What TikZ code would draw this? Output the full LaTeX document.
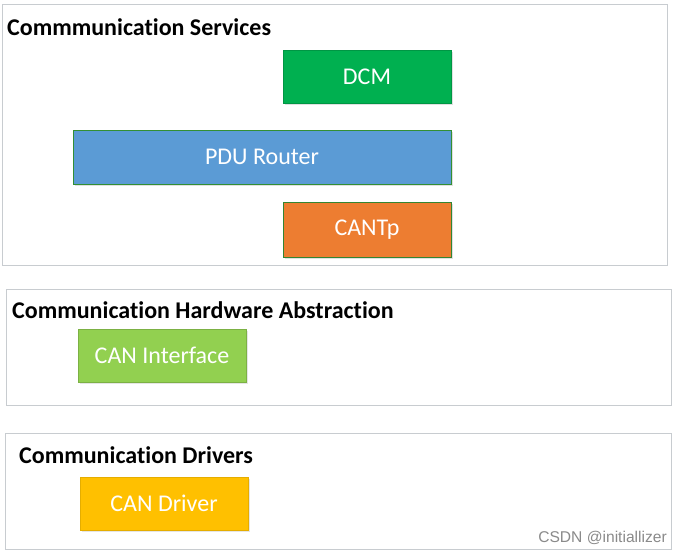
\documentclass[tikz,border=0pt]{standalone}
\usepackage{fontspec}
\setmainfont[Ligatures=NoCommon]{Carlito}
\newfontfamily\wmfont{Liberation Sans}
\definecolor{framegray}{HTML}{C8CCD0}
\definecolor{dcmgreen}{HTML}{00B050}
\definecolor{pdublue}{HTML}{5B9BD5}
\definecolor{cantporange}{HTML}{ED7D31}
\definecolor{ifgreen}{HTML}{92D050}
\definecolor{drvyellow}{HTML}{FFC000}
\definecolor{wmgray}{HTML}{8A8A8A}
\tikzset{
  layerbox/.style={draw=framegray, line width=1pt, fill=white},
  modbox/.style={line width=0.8pt, text=white, font=\fontsize{24}{26}\selectfont, inner sep=0pt},
  layertitle/.style={anchor=west, inner sep=0pt, font=\fontsize{24}{26}\selectfont\bfseries},
}
\begin{document}
\begin{tikzpicture}[x=1pt,y=-1pt]
\useasboundingbox (0,0) rectangle (676,553);
\fill[white] (0,0) rectangle (676,553);
% layers
\draw[layerbox] (2,5) rectangle (667,265);
\draw[layerbox] (6,289) rectangle (671,405);
\draw[layerbox] (5,433) rectangle (671,549);
% titles
\node[layertitle] (t1) at (7,27) {Commmunication Services};
\node[layertitle] (t2) at (12,310) {Communication Hardware Abstraction};
\node[layertitle] (t3) at (19,455) {Communication Drivers};
% modules
\fill[black!12] (285,52) rectangle (453,105);
\draw[modbox, draw=dcmgreen!85!black, fill=dcmgreen] (283,50) rectangle (451,103);
\node[modbox] (dcm) at (367,76.5) {DCM};
\fill[black!12] (75,132) rectangle (453,186);
\draw[modbox, draw=green!45!black!80, fill=pdublue] (73,130) rectangle (451,184);
\node[modbox] (pdur) at (262,157) {PDU Router};
\fill[black!12] (285,204) rectangle (453,259);
\draw[modbox, draw=green!40!black!80, fill=cantporange] (283,202) rectangle (451,257);
\node[modbox] (cantp) at (367,229.5) {CANTp};
\fill[black!10] (80,331) rectangle (248,384);
\draw[modbox, draw=ifgreen!85!black, fill=ifgreen] (78,329) rectangle (246,382);
\node[modbox] (canif) at (162,355.5) {CAN Interface};
\fill[black!10] (82,479) rectangle (250,532);
\draw[modbox, draw=drvyellow!90!black, fill=drvyellow] (80,477) rectangle (248,530);
\node[modbox] (candrv) at (164,503.5) {CAN Driver};
% watermark
\node[anchor=east, inner sep=0pt, text=wmgray, font=\wmfont\fontsize{15.6}{17}\selectfont] (wm) at (667,538) {CSDN @initiallizer};
\end{tikzpicture}
\end{document}
